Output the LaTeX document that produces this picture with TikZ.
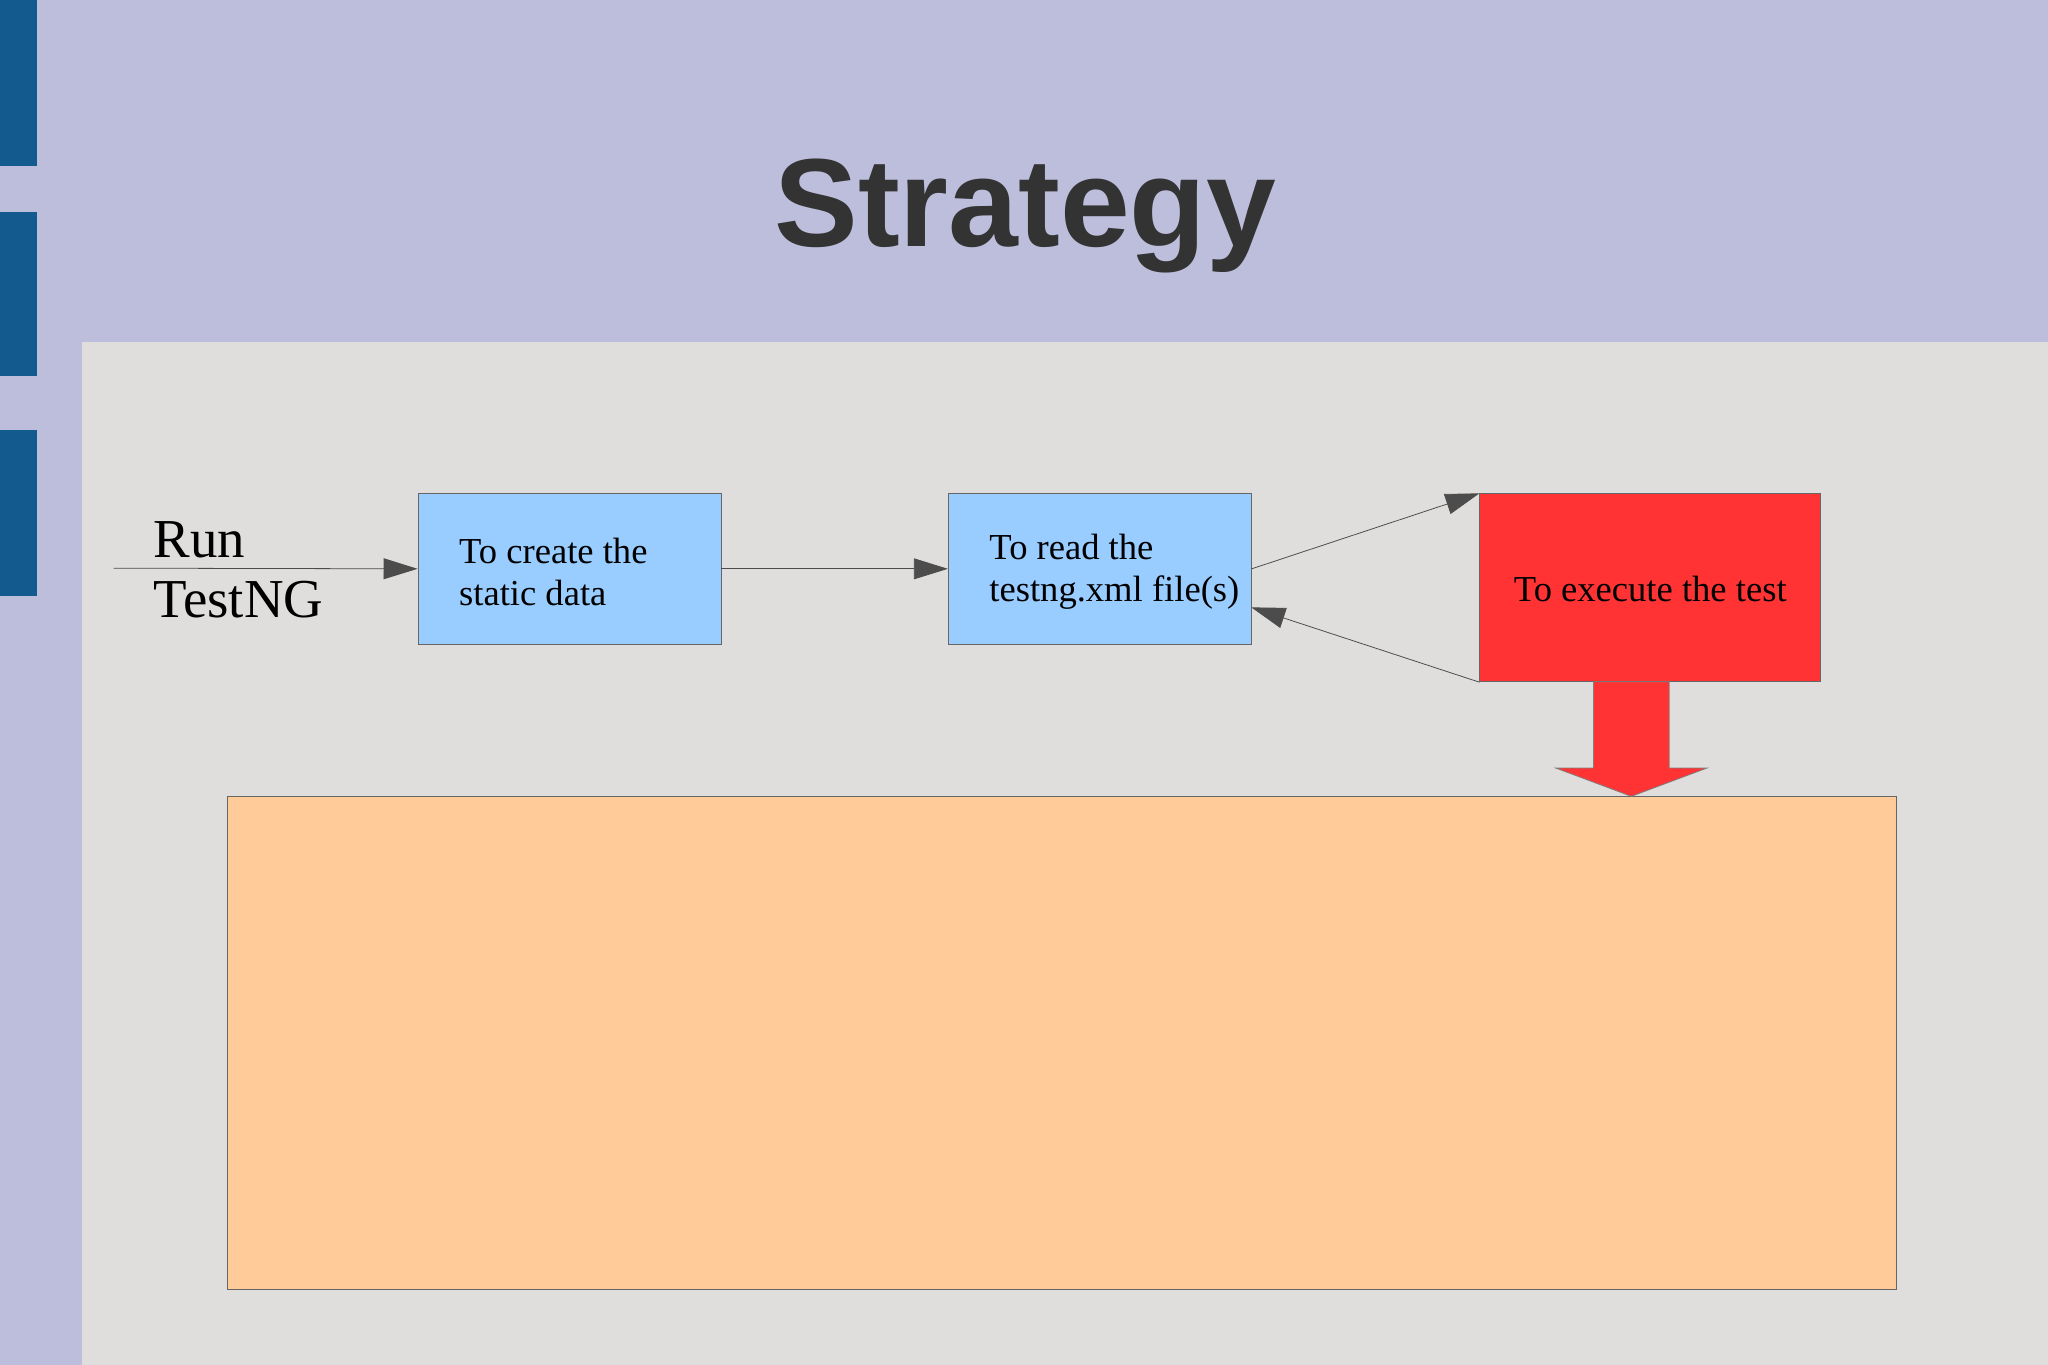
\documentclass[tikz,border=0pt]{standalone}
\usepackage{fontspec}
\setmainfont{Liberation Serif}
\setsansfont{Liberation Sans}
\usetikzlibrary{arrows.meta}
\definecolor{lav}{HTML}{BCBEDB}
\definecolor{bar}{HTML}{135A8E}
\definecolor{panel}{HTML}{DFDEDD}
\definecolor{lblue}{HTML}{99CCFF}
\definecolor{lred}{HTML}{FF3333}
\definecolor{lorange}{HTML}{FFCC99}
\begin{document}
\begin{tikzpicture}[x=1pt,y=-1pt,
  box/.style={draw=black!60,line width=0.6pt,inner sep=0pt},
  lbl/.style={font=\fontsize{28}{32}\selectfont,align=left,anchor=west},
  conn/.style={draw=black!70,line width=0.6pt,-{Triangle[length=26pt,width=16pt]}}]
\useasboundingbox (0,0) rectangle (1568,1045);
\fill[lav] (0,0) rectangle (1568,1045);
\fill[bar] (0,0) rectangle (28,127);
\fill[bar] (0,162) rectangle (28,288);
\fill[bar] (0,329) rectangle (28,456);
\fill[panel] (63,262) rectangle (1568,1045);
\node[font=\sffamily\bfseries\fontsize{96}{100}\selectfont,text=black!80] (title) at (785,165) {Strategy};
\node[box,fill=lblue,minimum width=232pt,minimum height=115pt] (b1) at (436,435.5) {};
\node[lbl] (t1) at (348,438) {To create the\\static data};
\node[box,fill=lblue,minimum width=232pt,minimum height=115pt] (b2) at (842,435.5) {};
\node[lbl] (t2) at (754,438) {To read the\\testng.xml file(s)};
\node[box,fill=lred,minimum width=261pt,minimum height=144pt] (b3) at (1263.5,450) {};
\node[lbl,anchor=center] (t3) at (1263.5,451) {To execute the test};
\node[box,fill=lorange,minimum width=1278pt,minimum height=377pt] (b4) at (813,798.5) {};
\node[font=\fontsize{42}{46}\selectfont,align=left,anchor=west] (run) at (114,436) {Run\\TestNG};
\coordinate (s) at (87,435);
\draw[conn] (s) -- (b1.west);
\draw[conn] (b1.east) -- (b2.west);
\draw[conn] (b2.east) -- (b3.north west);
\draw[conn] (b3.south west) -- (958,465);
\draw[draw=black!50,fill=lred,line width=0.6pt] (1220,522) -- (1278,522) -- (1278,588) -- (1307,588) -- (b4.north -| 1249,0) -- (1191,588) -- (1220,588) -- cycle;
\end{tikzpicture}
\end{document}
